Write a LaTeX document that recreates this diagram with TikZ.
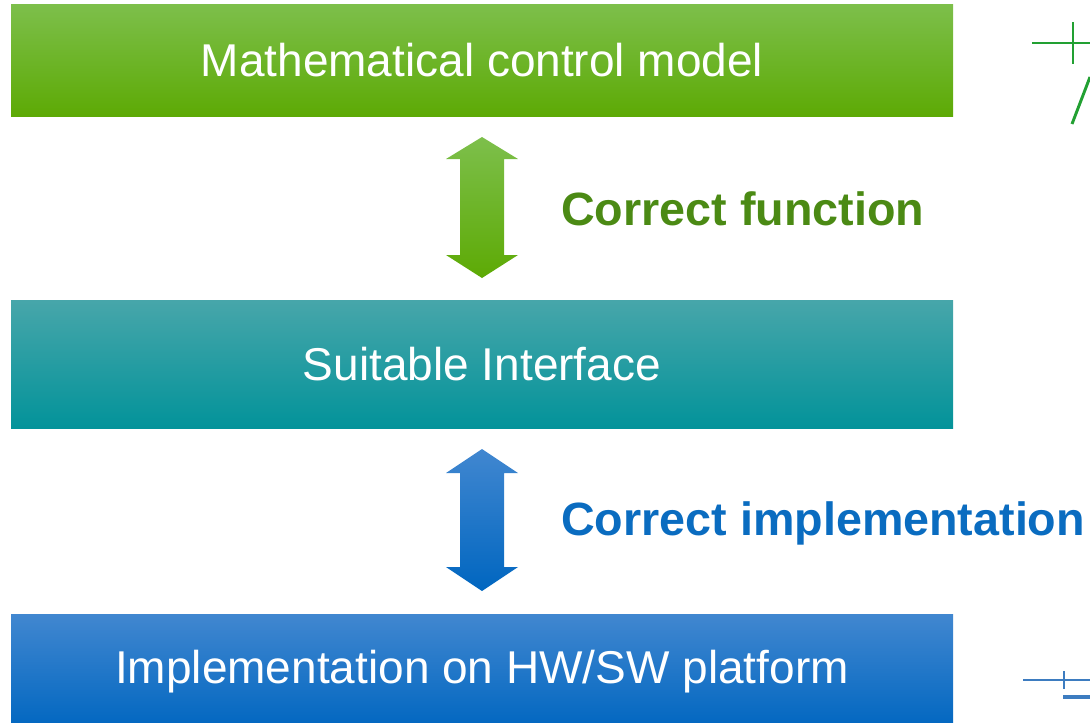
\documentclass[tikz,border=0pt]{standalone}
\usepackage{fontspec}
\setmainfont{Liberation Sans}
\usepackage{xcolor}
\usetikzlibrary{positioning,calc}

\definecolor{greentop}{HTML}{7DBF4B}
\definecolor{greenbot}{HTML}{5DAA05}
\definecolor{tealtop}{HTML}{47A6AA}
\definecolor{tealmid}{HTML}{12A0A6}
\definecolor{tealbot}{HTML}{03939A}
\definecolor{bluetop}{HTML}{4187D0}
\definecolor{bluebot}{HTML}{0066C0}
\definecolor{greentext}{HTML}{4B8A14}
\definecolor{bluetext}{HTML}{0A6CC0}
\definecolor{greenmark}{HTML}{22A032}
\definecolor{bluemark}{HTML}{3D7CC0}

\tikzset{
    layer/.style={minimum width=706.5pt, inner sep=0pt, text=white,
        font=\fontsize{34.5}{40}\selectfont},
    claim/.style={anchor=west, inner sep=0pt, font=\bfseries\fontsize{35}{40}\selectfont}
}

\begin{document}
\begin{tikzpicture}[x=0.75pt,y=-0.75pt]
    \useasboundingbox (0,0) rectangle (1090,722);

    % Layers
    \node[layer, minimum height=84pt, top color=greentop, bottom color=greenbot]
        (model) at (482,60) {Mathematical control model};
    \node[layer, minimum height=96pt, top color=tealtop, middle color=tealmid, bottom color=tealbot]
        (iface) at (482,364) {Suitable Interface};
    \node[layer, minimum height=87pt, top color=bluetop, bottom color=bluebot]
        (impl) at (482,672) {Implementation on HW/SW platform};

    % Double arrows
    \shade[top color=greentop, bottom color=greenbot]
        (446,159) -- (482,137) -- (518,159) -- (504,159) -- (504,255) -- (518,255)
        -- (482,278) -- (446,255) -- (460,255) -- (460,159) -- cycle;
    \shade[top color=bluetop, bottom color=bluebot]
        (446,473) -- (482,449) -- (518,473) -- (504,473) -- (504,567) -- (518,567)
        -- (482,591) -- (446,567) -- (460,567) -- (460,473) -- cycle;

    % Labels
    \node[claim, text=greentext] (func) at (561,209) {Correct function};
    \node[claim, text=bluetext] (implok) at (561,523) {Correct implementation};

    % Cut-off marks at the right edge
    \draw[greenmark, line width=2.2pt] (1032,43) -- (1090,43);
    \draw[greenmark, line width=1pt] (1073,22) -- (1073,64);
    \draw[greenmark, line width=2.2pt] (1072,124) -- (1090,77);
    \draw[bluemark, line width=2.2pt] (1023,680) -- (1090,680);
    \draw[bluemark, line width=1pt] (1064,671) -- (1064,689);
    \draw[bluemark, line width=3pt] (1063,697) -- (1090,697);
\end{tikzpicture}
\end{document}
